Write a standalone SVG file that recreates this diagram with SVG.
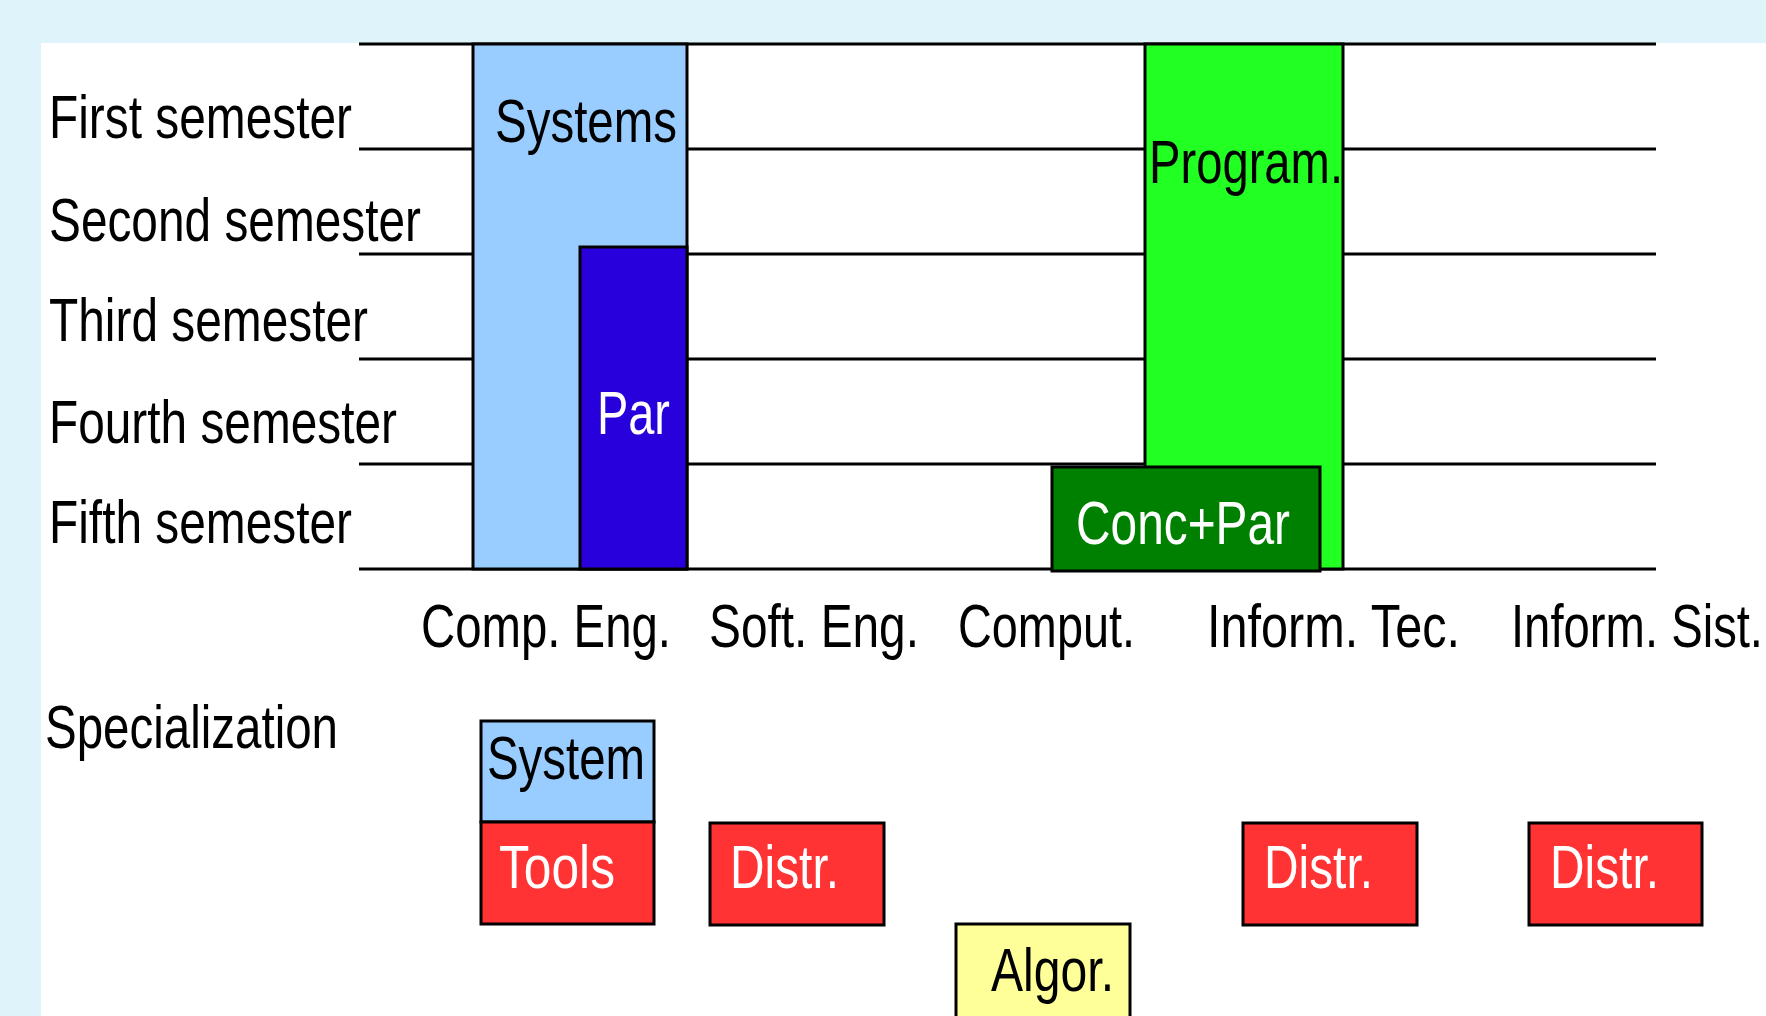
<svg xmlns="http://www.w3.org/2000/svg" width="1766" height="1016" viewBox="0 0 1766 1016">
<style>
.t{font-family:"Liberation Sans Narrow","Liberation Sans",Arial,sans-serif;font-size:61px;fill:#000}
.w{fill:#fff}
.box{stroke:#000;stroke-width:3}
.grid line{stroke:#000;stroke-width:3}
</style>
<rect x="0" y="0" width="1766" height="1016" fill="#DFF3FA"/>
<rect x="41" y="43" width="1725" height="973" fill="#fff"/>
<g id="grid" class="grid">
<line x1="359" y1="44" x2="1656" y2="44"/>
<line x1="359" y1="149" x2="1656" y2="149"/>
<line x1="359" y1="254" x2="1656" y2="254"/>
<line x1="359" y1="359" x2="1656" y2="359"/>
<line x1="359" y1="464" x2="1656" y2="464"/>
<line x1="359" y1="569" x2="1656" y2="569"/>
</g>
<g id="row-labels">
<text class="t" x="49" y="138" textLength="303" lengthAdjust="spacingAndGlyphs">First semester</text>
<text class="t" x="49" y="241" textLength="372" lengthAdjust="spacingAndGlyphs">Second semester</text>
<text class="t" x="49" y="341" textLength="319" lengthAdjust="spacingAndGlyphs">Third semester</text>
<text class="t" x="49" y="443" textLength="348" lengthAdjust="spacingAndGlyphs">Fourth semester</text>
<text class="t" x="49" y="543" textLength="303" lengthAdjust="spacingAndGlyphs">Fifth semester</text>
</g>
<g id="node-systems">
<rect class="box" x="473" y="44" width="214" height="525" fill="#99CCFF"/>
<text class="t" x="495" y="142" textLength="182" lengthAdjust="spacingAndGlyphs">Systems</text>
</g>
<g id="node-par">
<rect class="box" x="580" y="247" width="107" height="322" fill="#2800DC"/>
<text class="t w" x="597" y="434" textLength="73" lengthAdjust="spacingAndGlyphs">Par</text>
</g>
<g id="node-program">
<rect class="box" x="1145" y="44" width="198" height="525" fill="#22FF22"/>
<text class="t" x="1149" y="183" textLength="194" lengthAdjust="spacingAndGlyphs">Program.</text>
</g>
<g id="node-concpar">
<rect class="box" x="1052" y="467" width="268" height="104" fill="#008000"/>
<text class="t w" x="1076" y="544" textLength="214" lengthAdjust="spacingAndGlyphs">Conc+Par</text>
</g>
<g id="col-labels">
<text class="t" x="421" y="647" textLength="250" lengthAdjust="spacingAndGlyphs">Comp. Eng.</text>
<text class="t" x="709" y="647" textLength="210" lengthAdjust="spacingAndGlyphs">Soft. Eng.</text>
<text class="t" x="958" y="647" textLength="177" lengthAdjust="spacingAndGlyphs">Comput.</text>
<text class="t" x="1207" y="647" textLength="253" lengthAdjust="spacingAndGlyphs">Inform. Tec.</text>
<text class="t" x="1511" y="647" textLength="252" lengthAdjust="spacingAndGlyphs">Inform. Sist.</text>
<text class="t" x="45" y="748" textLength="293" lengthAdjust="spacingAndGlyphs">Specialization</text>
</g>
<g id="node-system">
<rect class="box" x="481" y="721" width="173" height="101" fill="#99CCFF"/>
<text class="t" x="487" y="779" textLength="158" lengthAdjust="spacingAndGlyphs">System</text>
</g>
<g id="node-tools">
<rect class="box" x="481" y="822" width="173" height="102" fill="#FF3333"/>
<text class="t w" x="499" y="888" textLength="116" lengthAdjust="spacingAndGlyphs">Tools</text>
</g>
<g id="node-distr-soft">
<rect class="box" x="710" y="823" width="174" height="102" fill="#FF3333"/>
<text class="t w" x="730" y="888" textLength="109" lengthAdjust="spacingAndGlyphs">Distr.</text>
</g>
<g id="node-algor">
<rect class="box" x="956" y="924" width="174" height="100" fill="#FFFF99"/>
<text class="t" x="991" y="991" textLength="123" lengthAdjust="spacingAndGlyphs">Algor.</text>
</g>
<g id="node-distr-tec">
<rect class="box" x="1243" y="823" width="174" height="102" fill="#FF3333"/>
<text class="t w" x="1264" y="888" textLength="109" lengthAdjust="spacingAndGlyphs">Distr.</text>
</g>
<g id="node-distr-sist">
<rect class="box" x="1529" y="823" width="173" height="102" fill="#FF3333"/>
<text class="t w" x="1550" y="888" textLength="109" lengthAdjust="spacingAndGlyphs">Distr.</text>
</g>
</svg>
